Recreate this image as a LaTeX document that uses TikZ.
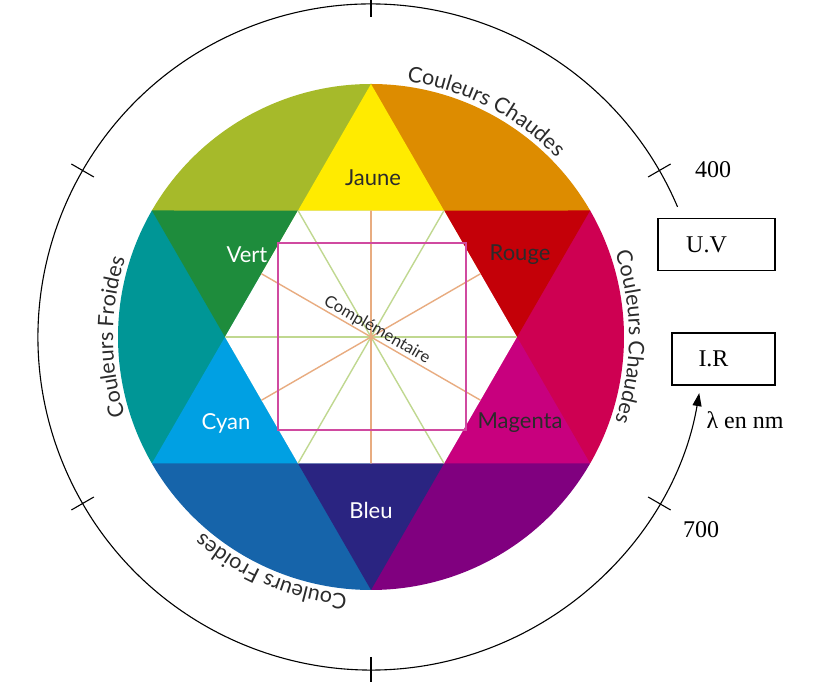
\documentclass[tikz,border=0pt]{standalone}
\usepackage{fontspec}
\setmainfont{Liberation Serif}
\newfontfamily\gill{Lato}
\usetikzlibrary{decorations.text,arrows.meta}
\definecolor{cOl}{HTML}{A6BA2A}\definecolor{cOr}{HTML}{DD8C00}
\definecolor{cRp}{HTML}{CE0052}\definecolor{cPu}{HTML}{80007F}
\definecolor{cBl}{HTML}{1664AA}\definecolor{cTe}{HTML}{009696}
\definecolor{cJa}{HTML}{FFEB00}\definecolor{cRo}{HTML}{C40008}
\definecolor{cMa}{HTML}{C8007E}\definecolor{cBe}{HTML}{2A2481}
\definecolor{cCy}{HTML}{00A0E3}\definecolor{cVe}{HTML}{1E8C3C}
\definecolor{lnG}{HTML}{C0D890}\definecolor{lnO}{HTML}{E8AC80}
\definecolor{sqM}{HTML}{D04AA0}\definecolor{txD}{HTML}{2B2B2B}
\tikzset{lab/.style={font=\gill\fontsize{22}{22}\selectfont},
 boxn/.style={draw,line width=1.1pt,minimum width=117pt,minimum height=52pt,font=\fontsize{24}{24}\selectfont,inner sep=0pt},
 arct/.style={decorate,decoration={text along path,text align=center,text={|\gill\fontsize{21.5}{21.5}\selectfont\color{txD}|#1}}}}
\begin{document}
\begin{tikzpicture}[x=1pt,y=1pt]
\useasboundingbox (0,0) rectangle (820,682);
\begin{scope}[shift={(371,345)}]
\def\R{253}\def\h{146}
\foreach \a/\c in {30/cOr,-30/cRp,-90/cPu,-150/cBl,150/cTe,90/cOl}
  \fill[\c] (0,0) -- (\a:\R) arc[start angle=\a,end angle=\a+60,radius=\R] -- cycle;
\foreach \a/\c in {90/cJa,30/cRo,-30/cMa,-90/cBe,-150/cCy,150/cVe}
  \fill[\c] (\a:\R) -- (\a-30:\h) -- (\a+30:\h) -- cycle;
\fill[white] (0:\h) -- (60:\h) -- (120:\h) -- (180:\h) -- (240:\h) -- (300:\h) -- cycle;
\begin{scope}
\clip (0:\h) -- (60:\h) -- (120:\h) -- (180:\h) -- (240:\h) -- (300:\h) -- cycle;
\foreach \a in {0,60,120} \draw[lnG,line width=1.4pt] (\a:200) -- (\a+180:200);
\foreach \a in {30,90,150} \draw[lnO,line width=1.4pt] (\a:200) -- (\a+180:200);
\end{scope}
\draw[sqM,line width=1.4pt] (-93,-93) rectangle (95,94);
\node[font=\gill\fontsize{16.5}{16.5}\selectfont,text=txD,rotate=-30] (comp) at (6,7) {Complémentaire};
\node[lab,text=txD] (ja) at (2,159) {Jaune};
\node[lab,text=white] (ve) at (-124,82) {Vert};
\node[lab,text=txD] (ro) at (149,82) {Rouge};
\node[lab,text=white] (cy) at (-145,-86) {Cyan};
\node[lab,text=txD] (ma) at (149,-86) {Magenta};
\node[lab,text=white] (be) at (0,-173) {Bleu};
\path[arct={Couleurs Chaudes}] (100:258) arc[start angle=100,end angle=26,radius=258];
\path[arct={Couleurs Chaudes}] (37:258) arc[start angle=37,end angle=-37,radius=258];
\path[arct={Couleurs Froides}] (284:258) arc[start angle=284,end angle=210,radius=258];
\path[arct={Couleurs Froides}] (217:258) arc[start angle=217,end angle=143,radius=258];
\draw[line width=1.1pt,-{Triangle[length=13pt,width=9pt]}] (23:333) arc[start angle=23,end angle=350.3,radius=333];
\foreach \a in {30,90,150,210,270,330} \draw[line width=1.1pt] (\a:320) -- (\a:346);
\end{scope}
\node[boxn] (uv) at (716.5,437.5) {\hspace*{-20pt}U.V};
\node[boxn,minimum width=103pt] (ir) at (723.5,323) {\hspace*{-20pt}I.R};
\node[font=\fontsize{24}{24}\selectfont] (n400) at (713,512) {400};
\node[font=\fontsize{24}{24}\selectfont] (n700) at (701,152) {700};
\node[font=\fontsize{24}{24}\selectfont] (lam) at (745,262) {λ en nm};
\end{tikzpicture}
\end{document}
